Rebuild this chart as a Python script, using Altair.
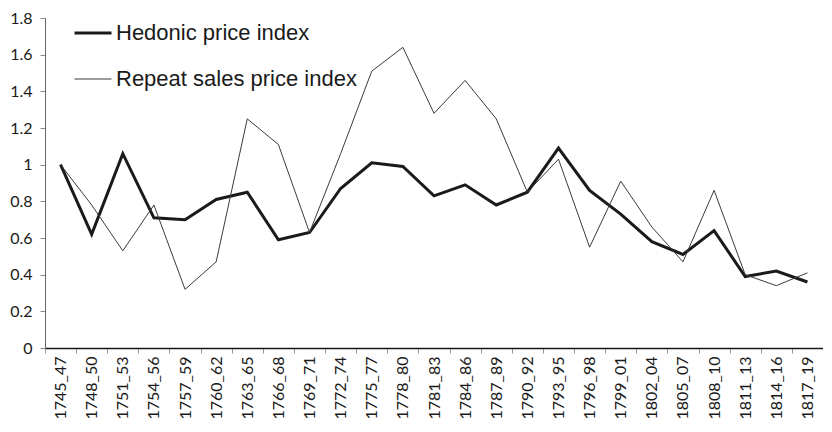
import altair as alt
import pandas as pd

periods = ["1745_47", "1748_50", "1751_53", "1754_56", "1757_59", "1760_62", "1763_65",
           "1766_68", "1769_71", "1772_74", "1775_77", "1778_80", "1781_83", "1784_86",
           "1787_89", "1790_92", "1793_95", "1796_98", "1799_01", "1802_04", "1805_07",
           "1808_10", "1811_13", "1814_16", "1817_19"]
hedonic = [1.00, 0.62, 1.06, 0.71, 0.70, 0.81, 0.85, 0.59, 0.63, 0.87, 1.01, 0.99, 0.83,
           0.89, 0.78, 0.85, 1.09, 0.86, 0.73, 0.58, 0.51, 0.64, 0.39, 0.42, 0.36]
repeat = [1.00, 0.78, 0.53, 0.78, 0.32, 0.47, 1.25, 1.11, 0.63, 1.06, 1.51, 1.64, 1.28,
          1.46, 1.25, 0.85, 1.03, 0.55, 0.91, 0.66, 0.47, 0.86, 0.40, 0.34, 0.41]
series = ["Hedonic price index", "Repeat sales price index"]
y_ticks = [0, 0.2, 0.4, 0.6, 0.8, 1.0, 1.2, 1.4, 1.6, 1.8]

rows = []
for p, h, r in zip(periods, hedonic, repeat):
    rows.append({"period": p, "value": h, "series": series[0]})
    rows.append({"period": p, "value": r, "series": series[1]})
df = pd.DataFrame(rows)

legend = alt.Legend(
    title=None, orient="none", legendX=28, legendY=-5, padding=0,
    symbolType="stroke", symbolSize=1369, labelFont="Liberation Sans",
    labelFontSize=22, labelColor="#1a1a1a", labelOffset=3, rowPadding=16,
    labelLimit=400,
)

chart = alt.Chart(df).mark_line().encode(
    x=alt.X("period:N", sort=periods,
            scale=alt.Scale(type="band", paddingInner=0, paddingOuter=0),
            axis=alt.Axis(title=None, labelAngle=-90, tickBand="extent",
                          labelFont="Lato", labelFontSize=16, labelColor="#1a1a1a",
                          labelPadding=3, tickSize=5, tickColor="#999999",
                          domainColor="#1a1a1a", domainWidth=1.5, grid=False)),
    y=alt.Y("value:Q", scale=alt.Scale(domain=[0, 1.8], nice=False),
            axis=alt.Axis(title=None, values=y_ticks, format=".1~f",
                          labelFont="Lato", labelFontSize=16, labelColor="#1a1a1a",
                          labelPadding=8, tickSize=5, tickColor="#888888",
                          domainColor="#666666", grid=False)),
    color=alt.Color("series:N", scale=alt.Scale(domain=series, range=["#1a1a1a", "#3a3a3a"]),
                    legend=legend),
    strokeWidth=alt.StrokeWidth("series:N", scale=alt.Scale(domain=series, range=[3, 1]),
                                legend=legend),
).properties(
    width=778, height=330,
    autosize=alt.AutoSizeParams(type="none"),
    padding={"left": 37, "top": 10, "right": 0, "bottom": 72},
).configure_view(stroke=None)

chart.save("out.html", embed_options={"renderer": "svg", "actions": False})
